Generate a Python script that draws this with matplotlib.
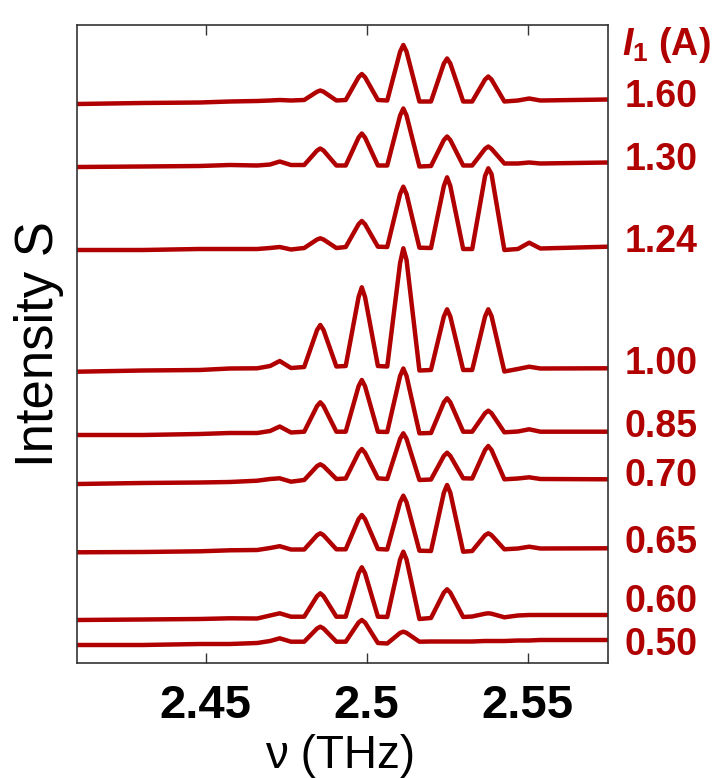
import matplotlib.pyplot as plt

plt.rcParams['font.family'] = ['Liberation Sans', 'DejaVu Sans']
plt.rcParams['mathtext.fontset'] = 'custom'
plt.rcParams['mathtext.it'] = 'Liberation Sans:italic:bold'
plt.rcParams['mathtext.rm'] = 'Liberation Sans:bold'

RED = '#b00000'

# frequency knots (THz), shared by every spectrum
nu = [2.4100, 2.4304, 2.4481, 2.4575, 2.4660, 2.4700, 2.4730, 2.4765,
      2.4806, 2.4846, 2.4856, 2.4866, 2.4906,
      2.4935, 2.4975, 2.4985, 2.4995, 2.5035,
      2.5064, 2.5104, 2.5114, 2.5124, 2.5164,
      2.5200, 2.5240, 2.5250, 2.5260, 2.5300,
      2.5328, 2.5368, 2.5378, 2.5388, 2.5428,
      2.5470, 2.5505, 2.5540, 2.5750]

# intensity above each trace's own baseline (arb. units)
s_160 = [-3.5, -2.5, -2, -1, -0.5, 0, 0.5, 0, 0.5, 8.8, 10, 8.8, 0,
         0.5, 23.3, 26.5, 23.3, 0.5, 0, 48.8, 55.5, 48.8, -1,
         -1, 37, 42, 37, -1, -1, 21, 24, 21, -1, 0, 2, 0, 1]
s_130 = [-1.5, -1, -0.5, 0.5, 0, 1, 4, 0.5, 0.5, 15, 17, 15, 0,
         0, 28, 32, 28, 0, 0, 50, 57, 50, -1,
         -0.5, 25.5, 29, 25.5, 0, 0, 16.7, 19, 16.7, 2, 2, 3, 2, 3]
s_124 = [-2, -2, -1, -1, -1, 0, 1, -1.5, 0, 8.5, 9.7, 8.5, 0,
         1, 23.8, 27, 23.8, 1.3, 1, 54, 61.3, 54, 0.3,
         0, 62, 70.7, 62, -1, -1, 72, 79.7, 74, -2, -1, 5.3, -0.5, 1.3]
s_100 = [-3.7, -2.5, -2, -0.5, -0.3, 2, 7, 0, 1, 38, 43, 38, 1.5,
         2, 71, 80.7, 71, 2, 1.5, 105, 119.7, 108, -2.5,
         -2, 51.5, 58.7, 51.5, -2, -2, 51.5, 58.7, 52, -3.5, -1, 1.3, -0.5, -0.3]
s_085 = [-3, -3, -2, -1, -1, 1, 5.5, -0.5, 0.3, 26, 29.7, 26, 0.3,
         0.3, 45.8, 52, 45.8, 0.3, 0, 56, 63.5, 56, -1.3,
         -1, 29.7, 33.7, 29.7, 0.3, 0.3, 18.8, 21.3, 18.8, -0.3, 0.5, 2.7, 0.3, 0.3]
s_070 = [-4.5, -3.5, -3, -2.5, -1.2, 0.5, 1.2, -2.2, -0.5, 13.4, 15.2, 13.4, 0.5,
         1, 26.8, 30.5, 26.8, 1.2, 0.5, 40.7, 46.2, 40.7, -0.5,
         0, 23.6, 26.8, 23.6, 1.2, 1, 29.5, 33.5, 29.5, 0.2, 1, 2.2, 0.5, 0.2]
s_065 = [-2.8, -2.5, -1.8, -0.8, -0.5, 1.5, 3.3, 0, 0, 14.3, 16.2, 14.3, 0.2,
         0.2, 30.4, 34.5, 30.4, 0.5, 0, 47.3, 53.8, 47.3, -1.2,
         -1.5, 56.8, 64.5, 56.8, -2.2, -1.5, 14.3, 16.2, 14.3, 0.2, 1, 2.8, 1, 1.2]
s_060 = [-3.3, -2.8, -2.3, -1.6, -1.8, 1.2, 3.4, 0, 0, 20.6, 23.4, 20.6, 0,
         0, 43.5, 49.4, 43.5, 0, -0.3, 57.2, 65, 57.2, -2.3,
         -1.3, 24.1, 27.4, 24.1, -0.3, 0.2, 3, 3.4, 3, -0.6, 1.2, 1.7, 1.7, 1.7]
s_050 = [-3.5, -3.5, -2.5, -2.5, -1.5, 0.5, 3.2, -0.2, -0.2, 13, 14.8, 13, -0.2,
         -0.2, 19, 21.5, 19, -1.5, -2, 8.6, 9.8, 8.6, -0.2,
         0, 0, 0, 0, 0, 0, 0.5, 0.5, 0.5, 0.5, 1, 1, 1.5, 1.5]

spectra = [s_160, s_130, s_124, s_100, s_085, s_070, s_065, s_060, s_050]
currents = ['1.60', '1.30', '1.24', '1.00', '0.85', '0.70', '0.65', '0.60', '0.50']
offsets = [562.5, 497.5, 415, 295, 231, 183.5, 113.5, 46.3, 21.5]
label_y = [566.3, 503, 420.5, 299, 236, 187, 120, 60.5, 18]

fig = plt.figure(figsize=(7.22, 7.78), dpi=100)
ax = fig.add_axes([77 / 722, 115 / 778, 531 / 722, 638 / 778])

for s, off in zip(spectra, offsets):
    ax.plot(nu, [off + v for v in s], color=RED, lw=3.2,
            solid_joinstyle='round', solid_capstyle='butt')

ax.set_xlim(2.41, 2.575)
ax.set_ylim(0, 638)
ax.set_yticks([])
ax.set_xticks([2.45, 2.5, 2.55])
ax.set_xticklabels(['2.45', '2.5', '2.55'])
ax.tick_params(axis='x', direction='in', top=True, length=7, width=1,
               pad=15, labelsize=34, color='#333333')
for lbl in ax.get_xticklabels():
    lbl.set_fontweight('bold')
for sp in ax.spines.values():
    sp.set_color('#333333')
    sp.set_linewidth(1.2)

ax.set_xlabel('ν (THz)', fontsize=33, va='baseline')
ax.xaxis.set_label_coords(0.495, -0.1646)
ax.set_ylabel('Intensity S', fontsize=38)
ax.yaxis.set_label_coords(-0.024, 0.5)

# current labels on the right
tr = ax.get_yaxis_transform()
for cur, y in zip(currents, label_y):
    ax.text(1.032, y, cur, transform=tr, ha='left', va='center',
            fontsize=27, fontweight='bold', color=RED, clip_on=False)
ax.text(1.026, 618, r'$I_1$ (A)', transform=tr, ha='left', va='center',
        fontsize=27, fontweight='bold', color=RED, clip_on=False)

fig.savefig('out.png', dpi=100)
